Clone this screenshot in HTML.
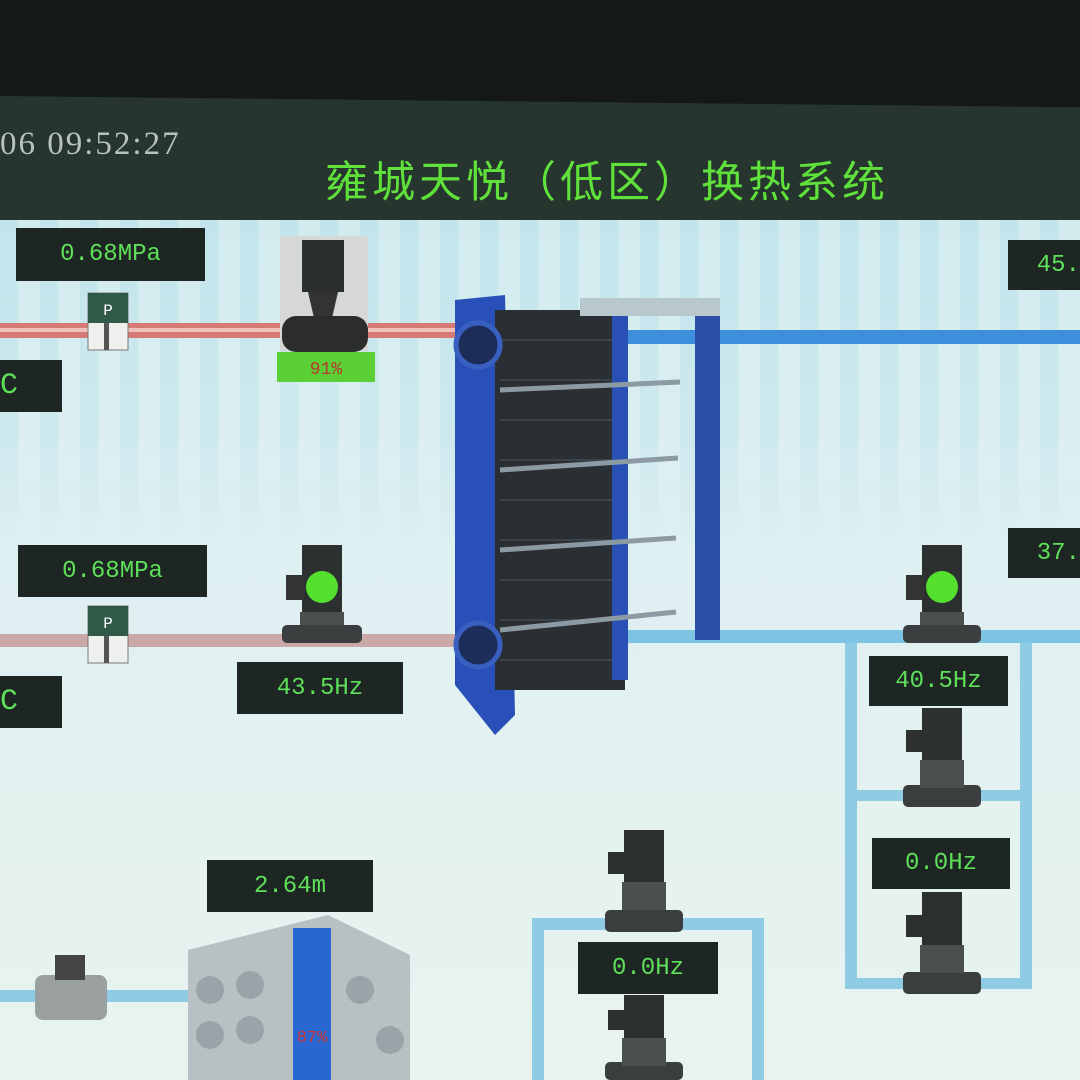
<!DOCTYPE html><html><head><meta charset="utf-8"><style>
body{margin:0;width:1080px;height:1080px;overflow:hidden;background:#141917;position:relative;font-family:"Liberation Mono","Noto Sans CJK SC",monospace}
div{position:absolute}
.lb{background:#1d2622;color:#5fe05a;font-size:24px;display:flex;align-items:center;justify-content:center;box-sizing:border-box}
</style></head><body>
<div style="left:0;top:96px;width:1080px;height:124px;background:#27352f;transform:skewY(0.6deg);transform-origin:0 0"></div>
<div style="left:0;top:126px;color:#b8c2bc;font-size:33px;font-family:'Liberation Serif',serif;letter-spacing:2px">06 09:52:27</div>
<div style="left:325px;top:148px;color:#5fe03a;font-size:43px;font-family:'Noto Sans CJK SC',sans-serif;letter-spacing:4px;white-space:nowrap">雍城天悦（低区）换热系统</div>
<div style="left:0;top:220px;width:1080px;height:860px;background:linear-gradient(180deg,#cde9ee 0%,#dff0f2 40%,#e4f2f0 70%,#e8f3ef 100%)"></div>
<div style="left:0;top:220px;width:1080px;height:330px;background:repeating-linear-gradient(90deg,rgba(120,200,220,.12) 0 18px,rgba(255,255,255,.1) 18px 40px);-webkit-mask-image:linear-gradient(180deg,#000 60%,transparent)"></div>
<svg width="1080" height="1080" style="position:absolute;left:0;top:0">
<rect x="0" y="323" width="465" height="15" fill="#d67a76"/><rect x="0" y="328" width="465" height="4" fill="#f0c0bb"/>
<rect x="0" y="634" width="465" height="13" fill="#caa8a8"/>
<rect x="620" y="330" width="460" height="14" fill="#3d8fdc"/>
<rect x="620" y="630" width="460" height="13" fill="#7fc3e3"/>
<g fill="#8fcbe3"><rect x="845" y="643" width="12" height="345"/><rect x="1020" y="643" width="12" height="345"/>
<rect x="845" y="790" width="187" height="11"/><rect x="845" y="978" width="187" height="11"/>
<rect x="532" y="918" width="230" height="12"/><rect x="532" y="918" width="12" height="162"/><rect x="752" y="918" width="12" height="162"/>
<rect x="0" y="990" width="190" height="12"/></g>
<rect x="280" y="236" width="88" height="115" fill="#d5d8d6"/>
<rect x="302" y="240" width="42" height="52" fill="#2c2f2f"/><path d="M308 292h30l-6 26h-18z" fill="#333"/>
<rect x="282" y="316" width="86" height="36" rx="14" fill="#2a2d2c"/>
<rect x="277" y="352" width="98" height="30" fill="#5ad036"/>
<text x="326" y="374" fill="#b83a2a" font-size="18" text-anchor="middle" font-family="Liberation Mono">91%</text>
<g><rect x="88" y="293" width="40" height="57" fill="#eef0ee" stroke="#777"/><rect x="88" y="293" width="40" height="30" fill="#2e5a47"/><text x="108" y="315" fill="#fff" font-size="16" text-anchor="middle">P</text><rect x="104" y="323" width="5" height="27" fill="#555"/></g>
<g><rect x="88" y="606" width="40" height="57" fill="#eef0ee" stroke="#777"/><rect x="88" y="606" width="40" height="30" fill="#2e5a47"/><text x="108" y="628" fill="#fff" font-size="16" text-anchor="middle">P</text><rect x="104" y="636" width="5" height="27" fill="#555"/></g>
<path d="M455 300l50-5 10 420-20 20-40-50z" fill="#2950b8"/>
<rect x="495" y="310" width="130" height="380" fill="#2a2f34"/>
<g stroke="#3b4248" stroke-width="2"><path d="M500 340h120M500 380h120M500 420h120M500 460h120M500 500h120M500 540h120M500 580h120M500 620h120M500 660h120"/></g>
<rect x="612" y="300" width="16" height="380" fill="#2850b5"/>
<rect x="695" y="310" width="25" height="330" fill="#2c4ea8"/>
<rect x="580" y="298" width="140" height="18" fill="#b8c8cc"/>
<g stroke="#8c9aa4" stroke-width="5"><path d="M500 390l180-8M500 470l178-12M500 550l176-12M500 630l176-18"/></g>
<circle cx="478" cy="345" r="22" fill="#1d2d5a" stroke="#3960c0" stroke-width="5"/><circle cx="478" cy="645" r="22" fill="#1d2d5a" stroke="#3960c0" stroke-width="5"/>
<g><rect x="302" y="545" width="40" height="70" fill="#2c302f"/><rect x="286" y="575" width="18" height="25" fill="#333"/><rect x="300" y="612" width="44" height="30" fill="#4a5050"/><rect x="282" y="625" width="80" height="18" rx="5" fill="#3a3e3e"/><circle cx="322" cy="587" r="16" fill="#55e030"/></g>
<g><rect x="922" y="545" width="40" height="70" fill="#2c302f"/><rect x="906" y="575" width="18" height="25" fill="#333"/><rect x="920" y="612" width="44" height="30" fill="#4a5050"/><rect x="903" y="625" width="78" height="18" rx="5" fill="#3a3e3e"/><circle cx="942" cy="587" r="16" fill="#55e030"/></g>
<g fill="#2c302f"><rect x="922" y="708" width="40" height="55"/><rect x="906" y="730" width="18" height="22"/><rect x="903" y="785" width="78" height="22" rx="5" fill="#3a3e3e"/><rect x="920" y="760" width="44" height="28" fill="#4a5050"/>
<rect x="922" y="892" width="40" height="55"/><rect x="906" y="915" width="18" height="22"/><rect x="903" y="972" width="78" height="22" rx="5" fill="#3a3e3e"/><rect x="920" y="945" width="44" height="28" fill="#4a5050"/>
<rect x="624" y="830" width="40" height="55"/><rect x="608" y="852" width="18" height="22"/><rect x="605" y="910" width="78" height="22" rx="5" fill="#3a3e3e"/><rect x="622" y="882" width="44" height="28" fill="#4a5050"/>
<rect x="624" y="995" width="40" height="45"/><rect x="608" y="1010" width="18" height="20"/><rect x="605" y="1062" width="78" height="18" rx="5" fill="#3a3e3e"/><rect x="622" y="1038" width="44" height="28" fill="#4a5050"/></g>
<rect x="35" y="975" width="72" height="45" rx="8" fill="#9aa0a0"/><rect x="55" y="955" width="30" height="25" fill="#444"/>
<path d="M188 950l140-35 82 40v125H188z" fill="#b8c0c4"/>
<g fill="#9aa4a8"><circle cx="210" cy="990" r="14"/><circle cx="250" cy="985" r="14"/><circle cx="210" cy="1035" r="14"/><circle cx="250" cy="1030" r="14"/><circle cx="360" cy="990" r="14"/><circle cx="390" cy="1040" r="14"/></g>
<rect x="293" y="928" width="38" height="152" fill="#2a66d0"/>
<text x="312" y="1042" fill="#d03a3a" font-size="17" text-anchor="middle">87%</text>
</svg>
<div class="lb" style="left:16px;top:228px;width:189px;height:53px">0.68MPa</div>
<div class="lb" style="left:0;top:360px;width:62px;height:52px;justify-content:flex-start;font-size:30px">C</div>
<div class="lb" style="left:18px;top:545px;width:189px;height:52px">0.68MPa</div>
<div class="lb" style="left:0;top:676px;width:62px;height:52px;justify-content:flex-start;font-size:30px">C</div>
<div class="lb" style="left:237px;top:662px;width:166px;height:52px">43.5Hz</div>
<div class="lb" style="left:207px;top:860px;width:166px;height:52px">2.64m</div>
<div class="lb" style="left:1008px;top:240px;width:72px;height:50px;justify-content:flex-end">45.</div>
<div class="lb" style="left:1008px;top:528px;width:72px;height:50px;justify-content:flex-end">37.</div>
<div class="lb" style="left:869px;top:656px;width:139px;height:50px">40.5Hz</div>
<div class="lb" style="left:872px;top:838px;width:138px;height:51px">0.0Hz</div>
<div class="lb" style="left:578px;top:942px;width:140px;height:52px">0.0Hz</div>
</body></html>
